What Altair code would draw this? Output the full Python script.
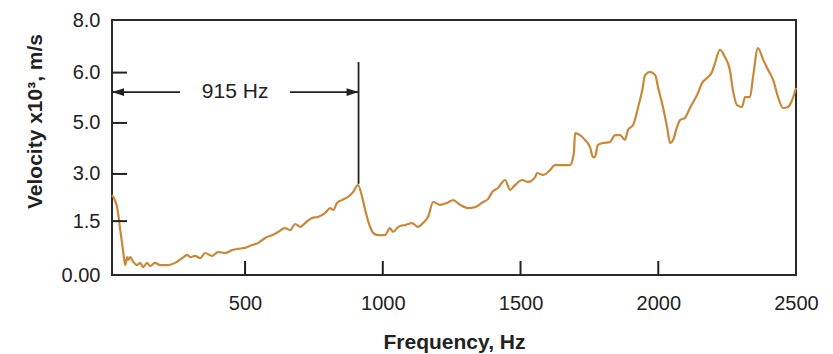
import altair as alt
import pandas as pd

# ---- data ----
freq = [17, 36, 47, 57, 65, 72, 76, 83, 94, 108,
        119, 130, 144, 155, 173, 192, 221, 246, 272, 290,
        301, 319, 337, 355, 380, 402, 428, 453, 475, 500,
        526, 547, 573, 598, 620, 645, 664, 682, 700, 718,
        743, 765, 791, 809, 820, 834, 852, 874, 892, 910,
        925, 936, 954, 965, 983, 1008, 1026, 1037, 1056, 1081,
        1106, 1128, 1146, 1164, 1183, 1208, 1233, 1255, 1281, 1310,
        1335, 1364, 1382, 1397, 1418, 1444, 1462, 1480, 1506, 1527,
        1553, 1560, 1582, 1607, 1625, 1654, 1680, 1691, 1694, 1698,
        1716, 1734, 1752, 1763, 1770, 1781, 1799, 1825, 1843, 1861,
        1879, 1890, 1909, 1927, 1942, 1952, 1970, 1989, 1999, 2017,
        2032, 2043, 2054, 2068, 2079, 2097, 2115, 2141, 2159, 2177,
        2195, 2206, 2224, 2242, 2260, 2271, 2286, 2304, 2315, 2333,
        2344, 2362, 2381, 2399, 2417, 2435, 2453, 2471, 2486, 2500]
velocity = [2.51, 2.10, 1.41, 0.78, 0.31, 0.56, 0.47, 0.56, 0.41, 0.31,
            0.38, 0.25, 0.38, 0.28, 0.38, 0.31, 0.31, 0.38, 0.53, 0.63,
            0.56, 0.60, 0.53, 0.69, 0.60, 0.72, 0.69, 0.78, 0.82, 0.85,
            0.94, 1.00, 1.16, 1.25, 1.35, 1.47, 1.41, 1.60, 1.51, 1.63,
            1.79, 1.82, 1.95, 2.10, 2.04, 2.26, 2.35, 2.45, 2.60, 2.82,
            2.45, 2.04, 1.51, 1.32, 1.25, 1.25, 1.47, 1.35, 1.51, 1.57,
            1.63, 1.51, 1.63, 1.82, 2.29, 2.20, 2.26, 2.35, 2.20, 2.10,
            2.13, 2.29, 2.38, 2.60, 2.73, 2.98, 2.67, 2.82, 2.98, 2.92,
            3.07, 3.20, 3.14, 3.29, 3.45, 3.45, 3.45, 3.70, 3.86, 4.45,
            4.39, 4.24, 4.02, 3.70, 3.70, 4.08, 4.14, 4.17, 4.39, 4.39,
            4.24, 4.55, 4.71, 5.27, 5.80, 6.27, 6.37, 6.27, 5.90, 5.27,
            4.64, 4.14, 4.24, 4.64, 4.86, 4.93, 5.24, 5.65, 6.02, 6.18,
            6.37, 6.65, 7.06, 6.84, 6.43, 5.80, 5.33, 5.27, 5.58, 5.58,
            6.21, 7.12, 6.75, 6.43, 6.12, 5.58, 5.24, 5.27, 5.49, 5.87]

x_domain = [17, 2500]
x_ticks = [500, 1000, 1500, 2000, 2500]
x_inner_ticks = [500, 1000, 1500, 2000]

y_domain = [0, 8]
y_tick_pos = [0, 1.69, 3.17, 4.77, 6.35, 8]
y_tick_labels = ["0.00", "1.5", "3.0", "5.0", "6.0", "8.0"]
y_inner_ticks = [1.69, 3.17, 4.77, 6.35]

# annotation
marker_freq = 912
marker_bottom = 2.86
marker_top = 6.68
arrow_level = 5.74
arrow_left_segment = [17, 264]
arrow_right_segment = [663, 912]
annot_text = "915 Hz"
annot_text_freq = 464

FONT = "Liberation Sans"
INK = "#222222"
W, H = 684, 255

df = pd.DataFrame({"freq": freq, "vel": velocity})

label_expr = "[" + ",".join("'%s'" % s for s in y_tick_labels) + "][indexof([" + \
    ",".join(str(v) for v in y_tick_pos) + "], datum.value)]"

xscale = alt.Scale(domain=x_domain, nice=False, zero=False)
yscale = alt.Scale(domain=y_domain, nice=False, zero=False)

x_axis = alt.Axis(values=x_ticks, format="d", title="Frequency, Hz", grid=False, domain=False,
                  ticks=False, tickSize=0, labelFont=FONT, labelFontSize=20,
                  labelColor=INK, labelPadding=18, titleFont=FONT, titleFontSize=21,
                  titleFontWeight="bold", titleColor=INK, titleY=73,
                  titleBaseline="alphabetic", labelFlush=False)
y_axis = alt.Axis(values=y_tick_pos, labelExpr=label_expr, title="Velocity x10³, m/s",
                  grid=False, domain=False, ticks=False, tickSize=0, labelFont=FONT,
                  labelFontSize=20, labelColor=INK, labelPadding=12, titleFont=FONT,
                  titleFontSize=21, titleFontWeight="bold", titleColor=INK,
                  titleX=-77, titleY=101, titleAngle=270, titleAlign="center",
                  titleBaseline="middle", labelFlush=False)

X = alt.X("freq:Q", scale=xscale, axis=x_axis)
Y = alt.Y("vel:Q", scale=yscale, axis=y_axis)

line = alt.Chart(df).mark_line(color="#c98837", strokeWidth=2.2, interpolate="monotone").encode(x=X, y=Y)

# inner tick marks
ytick_df = pd.DataFrame({"vel": y_inner_ticks})
yticks = alt.Chart(ytick_df).mark_rule(color=INK, strokeWidth=2).encode(
    y=Y, x=alt.value(0), x2=alt.value(15))
xtick_df = pd.DataFrame({"freq": x_inner_ticks})
xticks = alt.Chart(xtick_df).mark_rule(color=INK, strokeWidth=2).encode(
    x=X, y=alt.value(H), y2=alt.value(H - 14))

# annotation: vertical marker
vline_df = pd.DataFrame({"freq": [marker_freq], "vel": [marker_bottom], "vel2": [marker_top]})
vline = alt.Chart(vline_df).mark_rule(color=INK, strokeWidth=1.8).encode(
    x=X, y=Y, y2="vel2:Q")

# horizontal arrow shafts
seg_df = pd.DataFrame({
    "freq": [arrow_left_segment[0], arrow_right_segment[0]],
    "freq2": [arrow_left_segment[1], arrow_right_segment[1]],
    "vel": [arrow_level, arrow_level],
})
shafts = alt.Chart(seg_df).mark_rule(color=INK, strokeWidth=1.8).encode(
    x=X, x2="freq2:Q", y=Y)

# arrow heads
left_head = alt.Chart(pd.DataFrame({"freq": [arrow_left_segment[0]], "vel": [arrow_level]})).mark_point(
    shape="M0,0L2,-0.65L2,0.65Z", filled=True, color=INK, opacity=1, size=144).encode(x=X, y=Y)
right_head = alt.Chart(pd.DataFrame({"freq": [arrow_right_segment[1]], "vel": [arrow_level]})).mark_point(
    shape="M0,0L-2,-0.65L-2,0.65Z", filled=True, color=INK, opacity=1, size=144).encode(x=X, y=Y)

label = alt.Chart(pd.DataFrame({"freq": [annot_text_freq], "vel": [arrow_level], "t": [annot_text]})).mark_text(
    font=FONT, fontSize=21, color=INK, align="center", baseline="middle").encode(x=X, y=Y, text="t:N")

chart = alt.layer(line, yticks, xticks, vline, shafts, left_head, right_head, label).properties(
    width=W, height=H,
    autosize=alt.AutoSizeParams(type="none"),
    padding={"left": 112, "top": 20, "right": 37, "bottom": 79},
    background="white",
).configure_view(stroke="#2a2a2a", strokeWidth=2)

chart.save("out.html", embed_options={"renderer": "svg", "actions": False})
